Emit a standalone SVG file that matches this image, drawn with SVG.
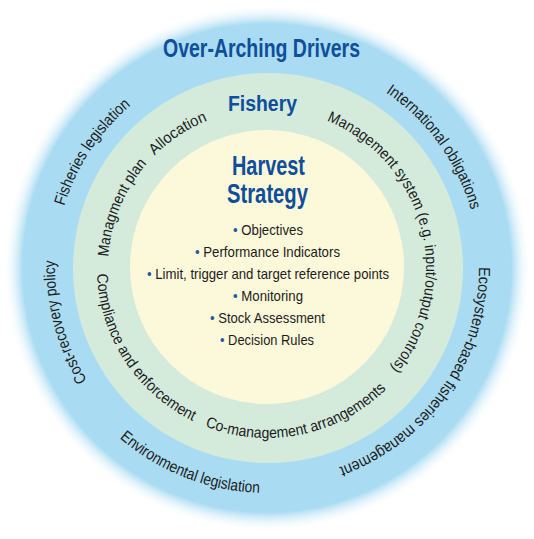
<svg xmlns="http://www.w3.org/2000/svg" xmlns:xlink="http://www.w3.org/1999/xlink" width="534" height="539" viewBox="0 0 534 539">
<style>
.ring{font-family:"Liberation Sans Narrow","Liberation Sans",Arial,sans-serif;font-size:15.5px;fill:#1c1c1c}
.outer{font-size:16px}
.title{font-family:"Liberation Sans Narrow","Liberation Sans",Arial,sans-serif;font-weight:bold;fill:#0f4e9a}
.item{font-family:"Liberation Sans Narrow","Liberation Sans",Arial,sans-serif;font-size:14.5px;fill:#1c1c1c}
.dot{fill:#1f5aa6}
</style>
<defs>
<radialGradient id="blueFade" gradientUnits="userSpaceOnUse" cx="267" cy="268" r="264">
<stop offset="0" stop-color="#a9dbf2"/>
<stop offset="0.925" stop-color="#a9dbf2"/>
<stop offset="1" stop-color="#ffffff" stop-opacity="0"/>
</radialGradient>
<path id="mcw" d="M267,427 A159,159 0 1 1 267,109 A159,159 0 1 1 267,427"/>
<path id="mccw" d="M267,98 A170,170 0 1 0 267,438 A170,170 0 1 0 267,98"/>
<path id="ocw" d="M267,480 A212,212 0 1 1 267,56 A212,212 0 1 1 267,480"/>
<path id="occw" d="M267,43 A225,225 0 1 0 267,493 A225,225 0 1 0 267,43"/>
</defs>
<rect width="534" height="539" fill="#ffffff"/>

<g id="over-arching-drivers">
<circle cx="267" cy="268" r="264" fill="url(#blueFade)"/>
<text class="title" x="163" y="57" font-size="26.5" textLength="197" lengthAdjust="spacingAndGlyphs">Over-Arching Drivers</text>
<text class="ring outer"><textPath xlink:href="#ocw" startOffset="214.6" textLength="125.8" lengthAdjust="spacingAndGlyphs">Cost-recovery policy</textPath></text>
<text class="ring outer"><textPath xlink:href="#ocw" startOffset="395.9" textLength="122.1" lengthAdjust="spacingAndGlyphs">Fisheries legislation</textPath></text>
<text class="ring outer"><textPath xlink:href="#ocw" startOffset="791.8" textLength="148" lengthAdjust="spacingAndGlyphs">International obligations</textPath></text>
<text class="ring outer"><textPath xlink:href="#ocw" startOffset="997.6" textLength="260.4" lengthAdjust="spacingAndGlyphs">Ecosystem-based fisheries management</textPath></text>
<text class="ring outer"><textPath xlink:href="#occw" startOffset="545.9" textLength="153.2" lengthAdjust="spacingAndGlyphs">Environmental legislation</textPath></text>
</g>

<g id="fishery">
<circle cx="268" cy="268" r="195" fill="#d4ebdc"/>
<text class="title" x="228" y="111" font-size="22.5" textLength="69" lengthAdjust="spacingAndGlyphs">Fishery</text>
<text class="ring"><textPath xlink:href="#mcw" startOffset="260.9" textLength="102.7" lengthAdjust="spacingAndGlyphs">Managment plan</textPath></text>
<text class="ring"><textPath xlink:href="#mcw" startOffset="374.6" textLength="63.8" lengthAdjust="spacingAndGlyphs">Allocation</textPath></text>
<text class="ring"><textPath xlink:href="#mcw" startOffset="560.6" textLength="296.9" lengthAdjust="spacingAndGlyphs">Management system (e.g. input/output controls)</textPath></text>
<text class="ring"><textPath xlink:href="#mccw" startOffset="273" textLength="184" lengthAdjust="spacingAndGlyphs">Compliance and enforcement</textPath></text>
<text class="ring"><textPath xlink:href="#mccw" startOffset="470.3" textLength="195.8" lengthAdjust="spacingAndGlyphs">Co-management arrangements</textPath></text>
</g>

<g id="harvest-strategy">
<circle cx="267" cy="267" r="137" fill="#fcf8da"/>
<text class="title" x="232" y="175" font-size="28" textLength="73" lengthAdjust="spacingAndGlyphs">Harvest</text>
<text class="title" x="227" y="203" font-size="28" textLength="81" lengthAdjust="spacingAndGlyphs">Strategy</text>
<text class="item" x="233" y="235" textLength="70" lengthAdjust="spacingAndGlyphs"><tspan class="dot">•</tspan> Objectives</text>
<text class="item" x="195" y="257" textLength="145" lengthAdjust="spacingAndGlyphs"><tspan class="dot">•</tspan> Performance Indicators</text>
<text class="item" x="147" y="279" textLength="242" lengthAdjust="spacingAndGlyphs"><tspan class="dot">•</tspan> Limit, trigger and target reference points</text>
<text class="item" x="233" y="301" textLength="70" lengthAdjust="spacingAndGlyphs"><tspan class="dot">•</tspan> Monitoring</text>
<text class="item" x="210" y="323" textLength="115" lengthAdjust="spacingAndGlyphs"><tspan class="dot">•</tspan> Stock Assessment</text>
<text class="item" x="220" y="345" textLength="94" lengthAdjust="spacingAndGlyphs"><tspan class="dot">•</tspan> Decision Rules</text>
</g>

<g id="connectors"/>
</svg>
